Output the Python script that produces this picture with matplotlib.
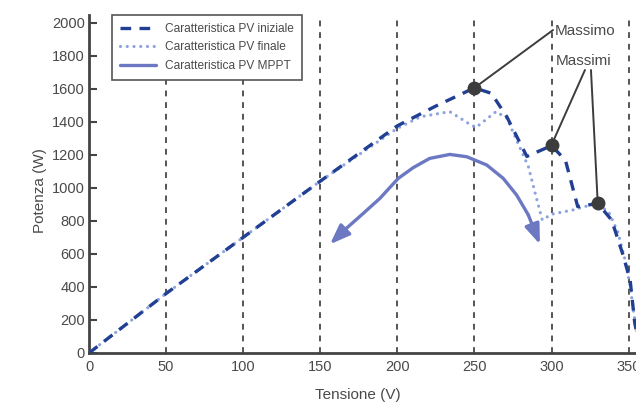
import matplotlib.pyplot as plt

plt.rcParams['font.family'] = ['Liberation Sans', 'DejaVu Sans']

# tensione (V) e potenza (W)
v_iniz = [0, 50, 100, 150, 200, 225, 250, 261, 271, 284, 300, 309, 317, 330, 339, 346, 351, 354, 358]
p_iniz = [0, 360, 700, 1040, 1375, 1495, 1605, 1572, 1430, 1190, 1255, 1168, 886, 905, 805, 605, 442, 182, 0]

v_fin = [0, 50, 100, 150, 200, 215, 234, 247, 251, 264, 271, 285, 290, 294, 300, 314, 325, 330, 337, 343, 348, 351, 354, 358]
p_fin = [0, 360, 700, 1040, 1360, 1430, 1461, 1385, 1365, 1461, 1422, 1128, 946, 805, 840, 866, 895, 900, 855, 734, 553, 405, 200, 0]

v_mppt = [156.3, 167, 178, 188.7, 200.6, 210.3, 221, 234, 245, 258, 268.7, 277.4, 285, 292.5]
p_mppt = [658, 755, 846, 936, 1057, 1122, 1178, 1202, 1188, 1138, 1057, 956, 835, 658]

v_max = [250, 300, 330]
p_max = [1605, 1259, 905]

c_iniz = '#213f93'
c_fin = '#8ea3dd'
c_mppt = '#6c79c2'
c_txt = '#4a4a4a'

fig = plt.figure(figsize=(6.36, 4.09), dpi=100)
ax = fig.add_axes([89 / 636, 56 / 409, 555 / 636, 338 / 409])

for v in range(50, 360, 50):
    ax.axvline(v, color='#555555', lw=1.4, ls=(0, (3, 3)), zorder=1)

ax.plot(v_fin, p_fin, color=c_fin, lw=2.3, ls=(0, (0.01, 2.1)),
        dash_capstyle='round', zorder=3, label='Caratteristica PV finale')
ax.plot(v_iniz, p_iniz, color=c_iniz, lw=2.4, ls=(0, (3.2, 2.5)),
        zorder=4, label='Caratteristica PV iniziale')
ax.plot(v_mppt[1:-1], p_mppt[1:-1], color=c_mppt, lw=2.4, zorder=3,
        solid_capstyle='round', label='Caratteristica PV MPPT')

# punte delle frecce MPPT
arr = dict(arrowstyle='-|>,head_length=1.2,head_width=0.45', color=c_mppt, lw=2.4,
           shrinkA=0, shrinkB=0)
ax.annotate('', xy=(v_mppt[0], p_mppt[0]), xytext=(v_mppt[1], p_mppt[1]), arrowprops=arr, zorder=3)
ax.annotate('', xy=(v_mppt[-1], p_mppt[-1]), xytext=(v_mppt[-2], p_mppt[-2]), arrowprops=arr, zorder=3)

ax.plot(v_max, p_max, 'o', color='#3c3c3c', ms=9, zorder=6)

line = dict(arrowstyle='-', color='#3c3c3c', lw=1.4, shrinkA=0, shrinkB=0)
ax.annotate('', xy=(v_max[0], p_max[0]), xytext=(301, 1955), arrowprops=line, zorder=5)
ax.annotate('', xy=(v_max[1], p_max[1]), xytext=(321.7, 1713), arrowprops=line, zorder=5)
ax.annotate('', xy=(v_max[2], p_max[2]), xytext=(325.6, 1713), arrowprops=line, zorder=5)
ax.text(302, 1948, 'Massimo', fontsize=11, color=c_txt, va='center', ha='left', zorder=5)
ax.text(302.5, 1768, 'Massimi', fontsize=11, color=c_txt, va='center', ha='left', zorder=5)

ax.set_xlim(0, 360)
ax.set_ylim(0, 2046)
ax.set_xticks(range(0, 360, 50))
ax.set_yticks(range(0, 2001, 200))

for s in ['top', 'right']:
    ax.spines[s].set_visible(False)
for s in ['left', 'bottom']:
    ax.spines[s].set_color('#444444')
    ax.spines[s].set_linewidth(2)

ax.tick_params(axis='y', direction='in', length=6, width=1.5, colors='#444444',
               labelcolor=c_txt, labelsize=10.5, pad=3)
ax.tick_params(axis='x', length=0, labelcolor=c_txt, labelsize=10.5, pad=5)

ax.set_xlabel('Tensione (V)', fontsize=11, color=c_txt)
ax.set_ylabel('Potenza (W)', fontsize=11, color=c_txt)
ax.xaxis.set_label_coords(0.485, -0.105)
ax.yaxis.set_label_coords(-0.076, 0.482)

h, l = ax.get_legend_handles_labels()
order = [1, 0, 2]
leg = ax.legend([h[i] for i in order], [l[i] for i in order], loc='upper left',
                bbox_to_anchor=(23 / 555, 1.0), borderaxespad=0, fontsize=8.6,
                fancybox=False, framealpha=1, edgecolor='#555555', labelcolor=c_txt,
                handlelength=3.0, borderpad=0.65, labelspacing=0.55)
leg.get_frame().set_linewidth(1.2)

fig.savefig('out.png', dpi=100)
